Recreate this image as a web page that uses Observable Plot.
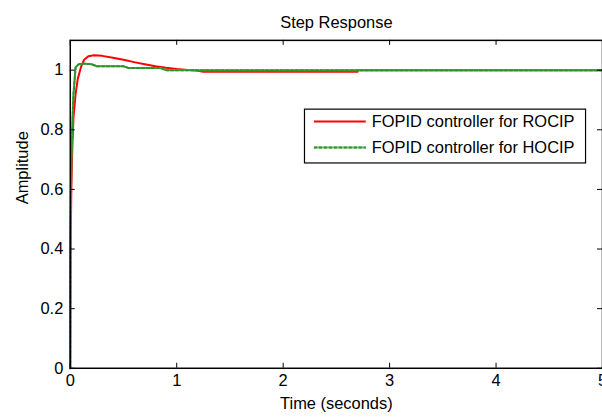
<!DOCTYPE html>
<html><head><meta charset="utf-8">
<script src="https://cdn.jsdelivr.net/npm/d3@7"></script>
<script src="https://cdn.jsdelivr.net/npm/@observablehq/plot@0.6"></script>
<style>html,body{margin:0;padding:0;background:#fff;overflow:hidden;}</style>
</head><body><div id="chart"></div>
<script>
const title = "Step Response";
const xLabel = "Time (seconds)";
const yLabel = "Amplitude";
const seriesNames = ["FOPID controller for ROCIP", "FOPID controller for HOCIP"];
const xTicks = [0, 1, 2, 3, 4, 5];
const yTicks = [0, 0.2, 0.4, 0.6, 0.8, 1];
const yTickLabels = ["0", "0.2", "0.4", "0.6", "0.8", "1"];

const rocipT = [0, 0.003, 0.01, 0.02, 0.03, 0.05, 0.07, 0.1, 0.13, 0.17, 0.22, 0.3, 0.4, 0.5, 0.6, 0.7, 0.8, 0.9, 1.0, 1.1, 1.2, 1.25, 2.7, 2.7, 5];
const rocipY = [0, 0.4, 0.6, 0.75, 0.84, 0.92, 0.97, 1.01, 1.035, 1.047, 1.05, 1.048, 1.042, 1.035, 1.027, 1.02, 1.013, 1.008, 1.004, 1.001, 0.998, 0.995, 0.995, 1.0, 1.0];
const hocipT = [0, 0.003, 0.01, 0.02, 0.03, 0.05, 0.08, 0.12, 0.2, 0.25, 0.5, 0.55, 0.85, 0.9, 5];
const hocipY = [0, 0.5, 0.7, 0.82, 0.92, 1.01, 1.02, 1.022, 1.02, 1.013, 1.013, 1.007, 1.007, 1.0, 1.0];

const rocip = rocipT.map((t, i) => ({t, y: rocipY[i]}));
const hocip = hocipT.map((t, i) => ({t, y: hocipY[i]}));

const tx = 5 / 106.8 * 5, ty = 5 / 299;
const font = "'Liberation Sans', Arial, sans-serif";

const plot = Plot.plot({
  width: 604, height: 417,
  marginLeft: 70, marginRight: 0, marginTop: 40, marginBottom: 48,
  style: {fontFamily: font, fontSize: "16.5px", color: "#000", background: "#fff", overflow: "visible"},
  x: {domain: [0, 5]},
  y: {domain: [0, 1.1]},
  marks: [
    Plot.lineY(rocip, {x: "t", y: "y", stroke: "#ff0000", strokeWidth: 2}),
    Plot.lineY(hocip, {x: "t", y: "y", stroke: "#6cbc6c", strokeWidth: 2}),
    Plot.lineY(hocip, {x: "t", y: "y", stroke: "#2b952b", strokeWidth: 2, strokeDasharray: "3,2"}),
    Plot.frame({stroke: "#000", strokeWidth: 1.5}),
    Plot.ruleX(xTicks, {x: d => d, y1: 0, y2: ty, stroke: "#000"}),
    Plot.ruleX(xTicks, {x: d => d, y1: 1.1 - ty, y2: 1.1, stroke: "#000"}),
    Plot.ruleY(yTicks, {y: d => d, x1: 0, x2: tx / 5, stroke: "#000"}),
    Plot.ruleY(yTicks, {y: d => d, x1: 5 - tx / 5, x2: 5, stroke: "#000"}),
    Plot.axisX(xTicks, {tickSize: 0, tickPadding: 6, label: null, fontSize: 16.5}),
    Plot.axisY(yTicks, {tickSize: 0, tickPadding: 7, label: null, tickFormat: (d, i) => yTickLabels[i], fontSize: 16.5}),
    Plot.text([title], {frameAnchor: "top", lineAnchor: "middle", dy: -18, fontSize: 16.5}),
    Plot.text([xLabel], {frameAnchor: "bottom", lineAnchor: "middle", dy: 36, fontSize: 16.5}),
    Plot.text([yLabel], {frameAnchor: "left", lineAnchor: "middle", dx: -48, rotate: -90, fontSize: 16.5})
  ]
});
document.getElementById("chart").appendChild(plot);

// legend
const svg = d3.select(plot);
const g = svg.append("g").attr("font-family", font).attr("font-size", "16.5px").attr("text-anchor", "start");
g.append("rect").attr("x", 305.5).attr("y", 109.5).attr("width", 282).attr("height", 54)
  .attr("fill", "#fff").attr("stroke", "#000").attr("stroke-width", 1.2);
const ly = [122, 148];
g.append("line").attr("x1", 315).attr("x2", 367).attr("y1", ly[0]).attr("y2", ly[0]).attr("stroke", "#ff0000").attr("stroke-width", 2);
g.append("line").attr("x1", 315).attr("x2", 367).attr("y1", ly[1]).attr("y2", ly[1]).attr("stroke", "#6cbc6c").attr("stroke-width", 2);
g.append("line").attr("x1", 315).attr("x2", 367).attr("y1", ly[1]).attr("y2", ly[1]).attr("stroke", "#2b952b").attr("stroke-width", 2).attr("stroke-dasharray", "3,2");
seriesNames.forEach((n, i) => {
  g.append("text").attr("x", 373).attr("y", ly[i]).attr("dy", "0.35em").attr("fill", "#000").attr("text-anchor", "start").text(n);
});
</script></body></html>
